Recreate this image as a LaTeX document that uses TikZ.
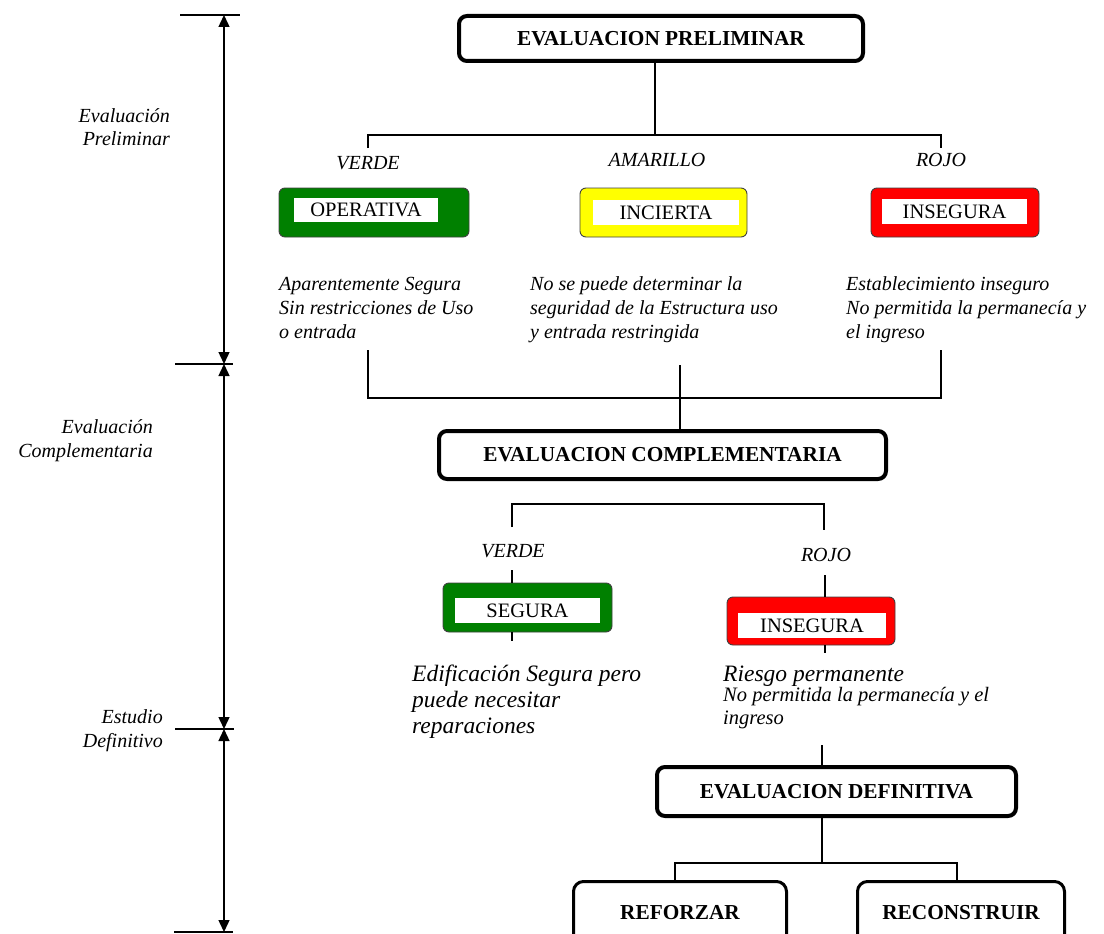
\documentclass[tikz,border=0pt]{standalone}
\usepackage{fontspec}
\setmainfont{Liberation Serif}
\usetikzlibrary{arrows.meta}
\definecolor{vgreen}{RGB}{0,128,0}
\definecolor{vyellow}{RGB}{255,255,0}
\definecolor{vred}{RGB}{255,0,0}
\begin{document}
\begin{tikzpicture}[x=1pt,y=-1pt,
  titlebox/.style={draw, line width=4pt, rounded corners=8pt, font=\fontsize{21.3}{25}\selectfont\bfseries, inner sep=0},
  endbox/.style={draw, line width=3pt, rounded corners=10pt, font=\fontsize{21.3}{25}\selectfont\bfseries, inner sep=0},
  statebox/.style={draw=black!75, line width=0.9pt, rounded corners=6pt, inner sep=0},
  whitebox/.style={fill=white, inner sep=0, font=\fontsize{20.5}{24}\selectfont},
  lbl/.style={font=\fontsize{20}{24}\selectfont\itshape, inner sep=0},
  desc/.style={font=\fontsize{20}{24}\selectfont\itshape, inner sep=0, align=left},
  conn/.style={line width=1.4pt},
  dim/.style={line width=1.4pt, {Triangle[width=11pt,length=12pt]}-{Triangle[width=11pt,length=12pt]}},
]
\useasboundingbox (0,0) rectangle (1104,934);
\clip (0,0) rectangle (1104,934);

% ---- scale on the left
\coordinate (t0l) at (180,15); \coordinate (t0r) at (240,15);
\coordinate (t1l) at (175,364); \coordinate (t1r) at (233,364);
\coordinate (t2l) at (175,729); \coordinate (t2r) at (234,729);
\coordinate (t3l) at (174,932); \coordinate (t3r) at (233,932);
\coordinate (s0) at (224,15); \coordinate (s1) at (224,364);
\coordinate (s2) at (224,729); \coordinate (s3) at (224,932);
\draw[conn] (t0l) -- (t0r);
\draw[conn] (t1l) -- (t1r);
\draw[conn] (t2l) -- (t2r);
\draw[conn] (t3l) -- (t3r);
\draw[dim] (s0) -- (s1);
\draw[dim] (s1) -- (s2);
\draw[dim] (s2) -- (s3);

\node[desc, align=right, anchor=north east] (lab1) at (170,105) {\strut Evaluación\\Preliminar};
\node[desc, align=right, anchor=north east] (lab2) at (153,416) {\strut Evaluación\\Complementaria};
\node[desc, align=right, anchor=north east] (lab3) at (163,706) {\strut Estudio\\Definitivo};

% ---- title boxes
\node[titlebox, minimum width=404pt, minimum height=45pt] (top) at (661,38.5) {EVALUACION PRELIMINAR};
\node[titlebox, minimum width=447pt, minimum height=48pt] (comp) at (662.5,455) {EVALUACION COMPLEMENTARIA};
\node[titlebox, minimum width=359pt, minimum height=49pt] (def) at (836.5,791.5) {EVALUACION DEFINITIVA};
\node[endbox, minimum width=213pt, minimum height=63pt] (ref) at (680,913) {REFORZAR};
\node[endbox, minimum width=207pt, minimum height=63pt] (rec) at (961,913) {RECONSTRUIR};

% ---- state boxes
\node[statebox, fill=vgreen, minimum width=190pt, minimum height=49pt] (op) at (374,212.5) {};
\node[whitebox, minimum width=144pt, minimum height=24pt] (opt) at (366,210) {OPERATIVA};
\node[statebox, fill=vyellow, minimum width=167pt, minimum height=49pt] (inc) at (663.5,212.5) {};
\node[whitebox, minimum width=146pt, minimum height=25pt] (inct) at (666,212.5) {INCIERTA};
\node[statebox, fill=vred, minimum width=168pt, minimum height=49pt] (ins) at (955,212.5) {};
\node[whitebox, minimum width=145pt, minimum height=25pt] (inst) at (954.5,211.5) {INSEGURA};
\node[statebox, fill=vgreen, minimum width=169pt, minimum height=49pt] (seg) at (527.5,607.5) {};
\node[whitebox, minimum width=145pt, minimum height=25pt] (segt) at (527.5,610.5) {SEGURA};
\node[statebox, fill=vred, minimum width=168pt, minimum height=48pt] (ins2) at (811,621) {};
\node[whitebox, minimum width=148pt, minimum height=25pt] (ins2t) at (812,625.5) {INSEGURA};

% ---- labels
\node[lbl] (v1) at (368,163) {VERDE};
\node[lbl] (am) at (657,160) {AMARILLO};
\node[lbl] (r1) at (941,160) {ROJO};
\node[lbl] (v2) at (513,551) {VERDE};
\node[lbl] (r2) at (826,555) {ROJO};

% ---- descriptions
\node[desc, anchor=north west] (d1t) at (279,273) {\strut Aparentemente Segura\\Sin restricciones de Uso\\o entrada};
\node[desc, anchor=north west] (d2t) at (530,273) {\strut No se puede determinar la\\seguridad de la Estructura uso\\y entrada restringida};
\node[desc, anchor=north west] (d3t) at (846,273) {\strut Establecimiento inseguro\\No permitida la permanecía y\\el ingreso};
\node[desc, anchor=north west, font=\fontsize{23.5}{26}\selectfont\itshape] (d4t) at (412,663) {\strut Edificación Segura pero\\puede necesitar\\reparaciones};
\node[desc, anchor=north west, font=\fontsize{23.5}{26}\selectfont\itshape] (d5t) at (723,663) {\strut Riesgo permanente};
\node[desc, anchor=north west, font=\fontsize{20.5}{23}\selectfont\itshape] (d6t) at (723,685) {\strut No permitida la permanecía y el\\ingreso};

% ---- connectors
\coordinate (a0) at (655,135);
\coordinate (a1) at (368,148);
\coordinate (a2) at (941,148);
\draw[conn] (top.south -| a0) -- (a0);
\draw[conn] (a1) |- (a0) -| (a2);

\coordinate (b0) at (680,398);
\coordinate (b1) at (368,350);
\coordinate (b2) at (941,350);
\coordinate (b3) at (680,365);
\draw[conn] (b1) |- (b0) -| (b2);
\draw[conn] (b3) -- (comp.north -| b3);

\coordinate (c0) at (668,504);
\coordinate (c1) at (512,527);
\coordinate (c2) at (824,530);
\draw[conn] (c1) |- (c0) -| (c2);
\coordinate (c3) at (512,570);
\coordinate (c4) at (512,641);
\draw[conn] (c3) -- (seg.north -| c3);
\draw[conn] (seg.south -| c4) -- (c4);
\coordinate (c5) at (825,575);
\coordinate (c6) at (825,653);
\draw[conn] (c5) -- (ins2.north -| c5);
\draw[conn] (ins2.south -| c6) -- (c6);

\coordinate (e0) at (822,745);
\coordinate (e1) at (822,863);
\coordinate (e2) at (675,863);
\coordinate (e3) at (957,863);
\draw[conn] (e0) -- (def.north -| e0);
\draw[conn] (def.south -| e1) -- (e1);
\draw[conn] (ref.north -| e2) |- (e1) -| (rec.north -| e3);
\end{tikzpicture}
\end{document}
